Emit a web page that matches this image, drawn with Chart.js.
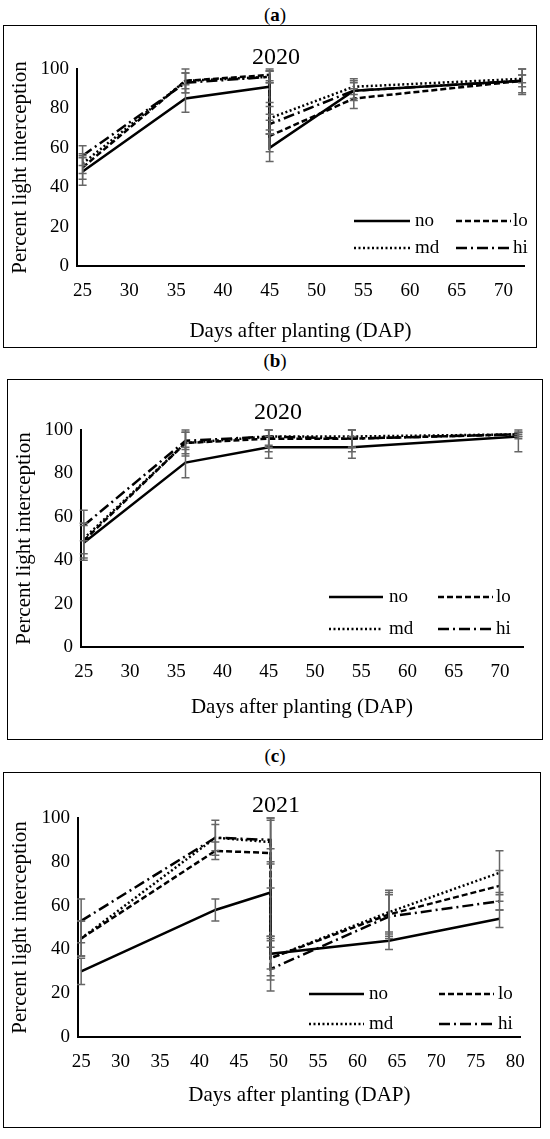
<!DOCTYPE html>
<html><head><meta charset="utf-8">
<script src="https://cdn.jsdelivr.net/npm/chart.js@4"></script>
<style>
body{margin:0;background:#fff;width:550px;height:1139px;position:relative;font-family:"Liberation Serif",serif;overflow:hidden}
.box{position:absolute;border:1.5px solid #000;box-sizing:border-box}
.lab{position:absolute;width:550px;text-align:center;font-size:19px;color:#000}
canvas{display:block}
</style></head><body>
<div class="lab" style="top:4px">(<b>a</b>)</div>
<div class="box" style="left:3px;top:25px;width:534px;height:323px"><canvas id="ca"></canvas></div>
<div class="lab" style="top:350px">(<b>b</b>)</div>
<div class="box" style="left:7px;top:379px;width:536px;height:361px"><canvas id="cb"></canvas></div>
<div class="lab" style="top:745px">(<b>c</b>)</div>
<div class="box" style="left:3px;top:772px;width:538px;height:356px"><canvas id="cc"></canvas></div>
<script>
// ---- data ----
const seriesNames = ["no","lo","md","hi"];
const yTicks = [0,20,40,60,80,100];
// Panel a (2020)
const aDAP = [25,36,45,45,54,72];
const aNo = [48,85,91,60,89,94];
const aLo = [50,94,97,66,85,94];
const aMd = [52,94,96,75,91,95];
const aHi = [56,93,96,72,89,94];
const aErrNo = [7,7,8,7,5,6];
const aErrLo = [6,6,3,8,5,7];
const aErrMd = [5,4,3,6,4,2];
const aErrHi = [5,5,3,5,4,3];
// Panel b (2020)
const bDAP = [25,36,45,54,72];
const bNo = [48,85,92,92,97];
const bLo = [49,94,96,96,98];
const bMd = [50,94,97,97,98];
const bHi = [56,95,97,96,98];
const bErrNo = [8,7,5,5,1];
const bErrLo = [8,6,6,6,8];
const bErrMd = [7,5,5,5,1];
const bErrHi = [7,4,4,4,1];
// Panel c (2021)
const cDAP = [25,42,49,49,64,78];
const cNo = [30,58,66,38,44,54];
const cLo = [45,85,84,36,56,69];
const cMd = [45,91,89,36,57,75];
const cHi = [53,91,90,31,55,62];
const cErrNo = [6,5,20,7,4,4];
const cErrLo = [8,4,16,10,10,7];
const cErrMd = [8,6,10,8,10,10];
const cErrHi = [10,8,10,10,10,4];

const FONT = "Liberation Serif";
const dashes = [[],[6,3],[2,2.5],[11,4,2,4]];

const errPlugin = {id:'err',afterDatasetsDraw(ch){
  const ctx=ch.ctx, ys=ch.scales.y, xs=ch.scales.x;
  ctx.save();ctx.strokeStyle='#666';ctx.lineWidth=1.5;ctx.setLineDash([]);
  ch.data.datasets.forEach(ds=>{
    ds.data.forEach((p,i)=>{
      const e=ds.err[i]; if(!e) return;
      const x=xs.getPixelForValue(p.x), y1=ys.getPixelForValue(Math.min(100,p.y+e)), y2=ys.getPixelForValue(p.y-e);
      ctx.beginPath();ctx.moveTo(x,y1);ctx.lineTo(x,y2);
      ctx.moveTo(x-4,y1);ctx.lineTo(x+4,y1);ctx.moveTo(x-4,y2);ctx.lineTo(x+4,y2);ctx.stroke();
    });
  });
  ctx.restore();
}};
const extraPlugin = {id:'extra',afterDraw(ch){
  const o=ch.options.plugins.extra, ctx=ch.ctx;
  ctx.save();ctx.fillStyle='#000';ctx.font='24px "'+FONT+'"';ctx.textAlign='center';ctx.textBaseline='middle';
  ctx.fillText(o.title,o.tx,o.ty);
  ctx.font='19px "'+FONT+'"';ctx.textAlign='left';ctx.strokeStyle='#000';ctx.lineWidth=2.5;
  ch.data.datasets.forEach((ds,i)=>{
    const L=o.leg[i];
    ctx.setLineDash(dashes[i]);ctx.beginPath();ctx.moveTo(L[0],L[2]);ctx.lineTo(L[1],L[2]);ctx.stroke();
    ctx.fillText(ds.label,L[3],L[2]);
  });
  ctx.restore();
}};

function make(id,w,h,dap,vals,errs,xmin,xmax,xtmax,pad,yW,xH,tb,title,leg){
  const c=document.getElementById(id);
  c.width=w-3;c.height=h-3;c.style.width=(w-3)+'px';c.style.height=(h-3)+'px';
  const xt=[];for(let v=25;v<=xtmax;v+=5)xt.push(v);
  new Chart(c,{type:'line',
    data:{datasets:seriesNames.map((n,i)=>({label:n,data:dap.map((d,j)=>({x:d,y:vals[i][j]})),err:errs[i],
      borderColor:'#000',borderWidth:2.5,borderDash:dashes[i],pointRadius:0,tension:0,fill:false}))},
    options:{responsive:false,animation:false,devicePixelRatio:1,
      layout:{padding:{top:pad.top,right:pad.right,left:0,bottom:0}},
      plugins:{legend:{display:false},tooltip:{enabled:false},extra:{title:title.t,tx:title.x,ty:title.y,leg:leg}},
      scales:{
        x:{type:'linear',min:xmin,max:xmax,afterBuildTicks(s){s.ticks=xt.map(v=>({value:v}));},
          grid:{display:false,drawTicks:false},border:{color:'#000',width:2},
          ticks:{color:'#000',font:{family:FONT,size:19},padding:14,maxRotation:0},
          title:{display:true,text:'Days after planting (DAP)',color:'#000',font:{family:FONT,size:21},padding:{top:0,bottom:tb}},
          afterFit(s){s.height=xH;}},
        y:{min:0,max:100,afterBuildTicks(s){s.ticks=yTicks.map(v=>({value:v}));},
          grid:{display:false,drawTicks:false},border:{color:'#000',width:2},
          ticks:{color:'#000',font:{family:FONT,size:19},padding:8},
          title:{display:true,text:'Percent light interception',color:'#000',font:{family:FONT,size:21},padding:{bottom:0}},
          afterFit(s){s.width=yW;}}
      }},
    plugins:[errPlugin,extraPlugin]});
}
make('ca',534,323,aDAP,[aNo,aLo,aMd,aHi],[aErrNo,aErrLo,aErrMd,aErrHi],24.4,72.2,70,{top:43,right:11},73,80,2,
  {t:'2020',x:272,y:32},[[350,406,195,411],[452,507,195,509],[350,406,222,411],[452,507,222,509]]);
make('cb',536,361,bDAP,[bNo,bLo,bMd,bHi],[bErrNo,bErrLo,bErrMd,bErrHi],24.7,72.5,70,{top:50,right:18},73,91,18,
  {t:'2020',x:270,y:33},[[321,375,217,381],[430,485,217,488],[321,375,249,381],[430,485,249,488]]);
make('cc',538,356,cDAP,[cNo,cLo,cMd,cHi],[cErrNo,cErrLo,cErrMd,cErrHi],24.6,80.7,80,{top:45,right:16},74,89,18,
  {t:'2021',x:272,y:33},[[305,360,221,365],[435,490,221,494],[305,360,251,365],[435,490,251,494]]);
</script></body></html>
